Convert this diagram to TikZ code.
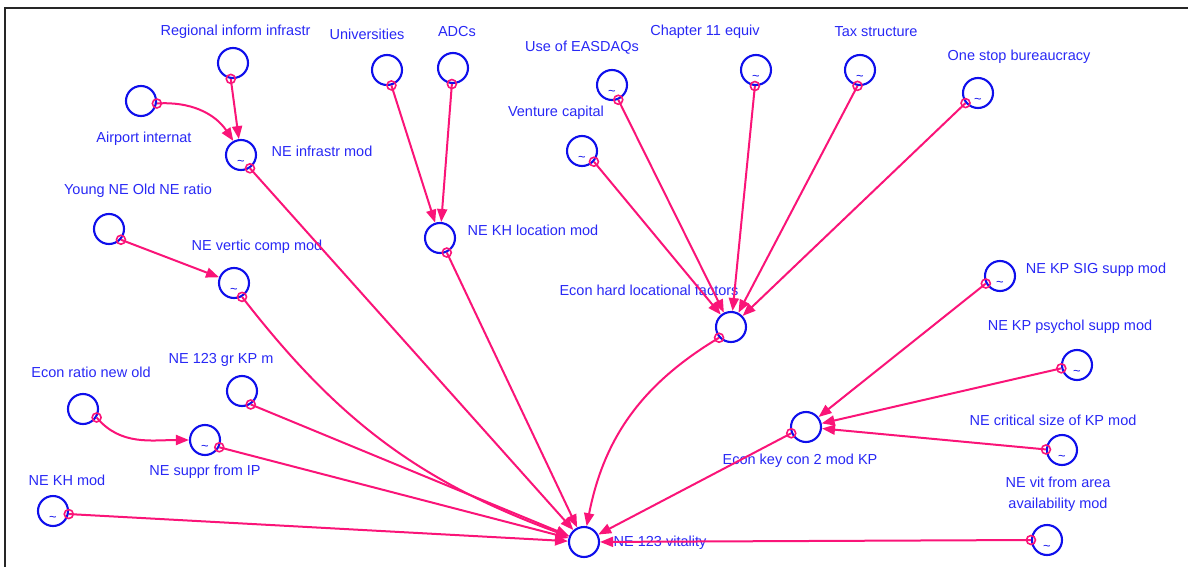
\documentclass[tikz,border=0pt]{standalone}
\usepackage{fontspec}
\setmainfont{Liberation Sans}
\usetikzlibrary{arrows.meta}
\definecolor{varblue}{RGB}{15,15,235}
\definecolor{txtblue}{RGB}{40,40,245}
\definecolor{linkpink}{RGB}{250,20,120}

\begin{document}
\begin{tikzpicture}[x=1pt,y=-1pt,
  var/.style={circle,draw=varblue,line width=2.1pt,minimum size=30pt,inner sep=0pt},
  lbl/.style={text=txtblue,font=\fontsize{14.5}{21}\selectfont,inner sep=0pt,align=center},
  tld/.style={text=varblue,font=\fontsize{13}{13}\selectfont,inner sep=0pt},
  link/.style={draw=linkpink,line width=2pt,-{Triangle[length=13pt,width=10pt]}},
  tailmark/.style={draw=linkpink,line width=1.6pt},
  borderline/.style={line width=2.2pt,draw=black!85}]

\useasboundingbox (0,0) rectangle (1188,567);
\draw[borderline] (5,567) coordinate (fb) -- (5,8) coordinate (fc) -- (1188,8) coordinate (fr);

% variables
\node[var] (rii)  at (233,63)   {};
\node[var] (air)  at (141,101)  {};
\node[var] (nei)  at (241,155)  {};
\node[var] (uni)  at (387,70)   {};
\node[var] (adc)  at (453,68)   {};
\node[var] (khl)  at (440,238)  {};
\node[var] (yng)  at (109,229)  {};
\node[var] (vcm)  at (234,283)  {};
\node[var] (eas)  at (612,85)   {};
\node[var] (vc)   at (582,151)  {};
\node[var] (ch)   at (756,70)   {};
\node[var] (tax)  at (860,70)   {};
\node[var] (osb)  at (978,93)   {};
\node[var] (ehl)  at (731,327)  {};
\node[var] (sig)  at (1000,276) {};
\node[var] (psy)  at (1077,365) {};
\node[var] (crit) at (1062,450) {};
\node[var] (area) at (1047,540) {};
\node[var] (ekc)  at (806,427)  {};
\node[var] (vit)  at (584,542)  {};
\node[var] (gkp)  at (242,391)  {};
\node[var] (ern)  at (83,409)   {};
\node[var] (sup)  at (205,440)  {};
\node[var] (kh)   at (53,511)   {};

% lookup marks
\foreach \v in {nei,vcm,eas,vc,ch,tax,osb,sig,psy,crit,area,sup,kh}
  \node[tld] (\v-t) at ([yshift=-8pt]\v.center) {\textasciitilde};

% labels
\node[lbl] (l-rii)  at (235.5,32) {Regional inform infrastr};
\node[lbl] (l-uni)  at (367,34)   {Universities};
\node[lbl] (l-adc)  at (457,32)   {ADCs};
\node[lbl] (l-eas)  at (582,48)   {Use of EASDAQs};
\node[lbl] (l-ch)   at (705,32)   {Chapter 11 equiv};
\node[lbl] (l-tax)  at (876,32)   {Tax structure};
\node[lbl] (l-osb)  at (1019,57)  {One stop bureaucracy};
\node[lbl] (l-vc)   at (556,113)  {Venture capital};
\node[lbl] (l-air)  at (144,139)  {Airport internat};
\node[lbl] (l-nei)  at (322,151)  {NE infrastr mod};
\node[lbl] (l-yng)  at (138,191)  {Young NE Old NE ratio};
\node[lbl] (l-khl)  at (533,230)  {NE KH location mod};
\node[lbl] (l-vcm)  at (257,247)  {NE vertic comp mod};
\node[lbl] (l-ehl)  at (649,290)  {Econ hard locational factors};
\node[lbl] (l-sig)  at (1096,270) {NE KP SIG supp mod};
\node[lbl] (l-psy)  at (1070,327) {NE KP psychol supp mod};
\node[lbl] (l-gkp)  at (221,360)  {NE 123 gr KP m};
\node[lbl] (l-ern)  at (91,372)   {Econ ratio new old};
\node[lbl] (l-crit) at (1053,420) {NE critical size of KP mod};
\node[lbl] (l-ekc)  at (800,461)  {Econ key con 2 mod KP};
\node[lbl] (l-area) at (1058,494.5) {NE vit from area\\availability mod};
\node[lbl] (l-sup)  at (205,472)  {NE suppr from IP};
\node[lbl] (l-kh)   at (67,480)   {NE KH mod};
\node[lbl] (l-vit)  at (660,543)  {NE 123 vitality};

% links: source anchor angle, target
\foreach \s/\a/\t in {rii/262/nei, uni/-74/khl, adc/-94/khl, yng/-42/vcm,
    eas/-67/ehl, vc/-42/ehl, ch/-94/ehl, tax/-99/ehl, osb/219/ehl,
    sig/208/ekc, psy/192/ekc, crit/178/ekc,
    nei/-56/vit, khl/-65/vit, ekc/203/vit, area/180/vit,
    gkp/-57/vit, sup/-27/vit, kh/-11/vit}
{
  \draw[link] (\s.\a) -- (\t);
  \draw[tailmark] (\s.\a) circle[radius=4.5pt];
}

% curved links
\draw[link] (air.-9) to[bend left=30] (nei);
\draw[tailmark] (air.-9) circle[radius=4.5pt];
\draw[link] (ern.-32) to[out=-50,in=180] (sup);
\draw[tailmark] (ern.-32) circle[radius=4.5pt];
\draw[link] (vcm.-60) to[bend right=16] (vit);
\draw[tailmark] (vcm.-60) circle[radius=4.5pt];
\draw[link] (ehl.222) to[bend right=24] (vit);
\draw[tailmark] (ehl.222) circle[radius=4.5pt];
\end{tikzpicture}
\end{document}
